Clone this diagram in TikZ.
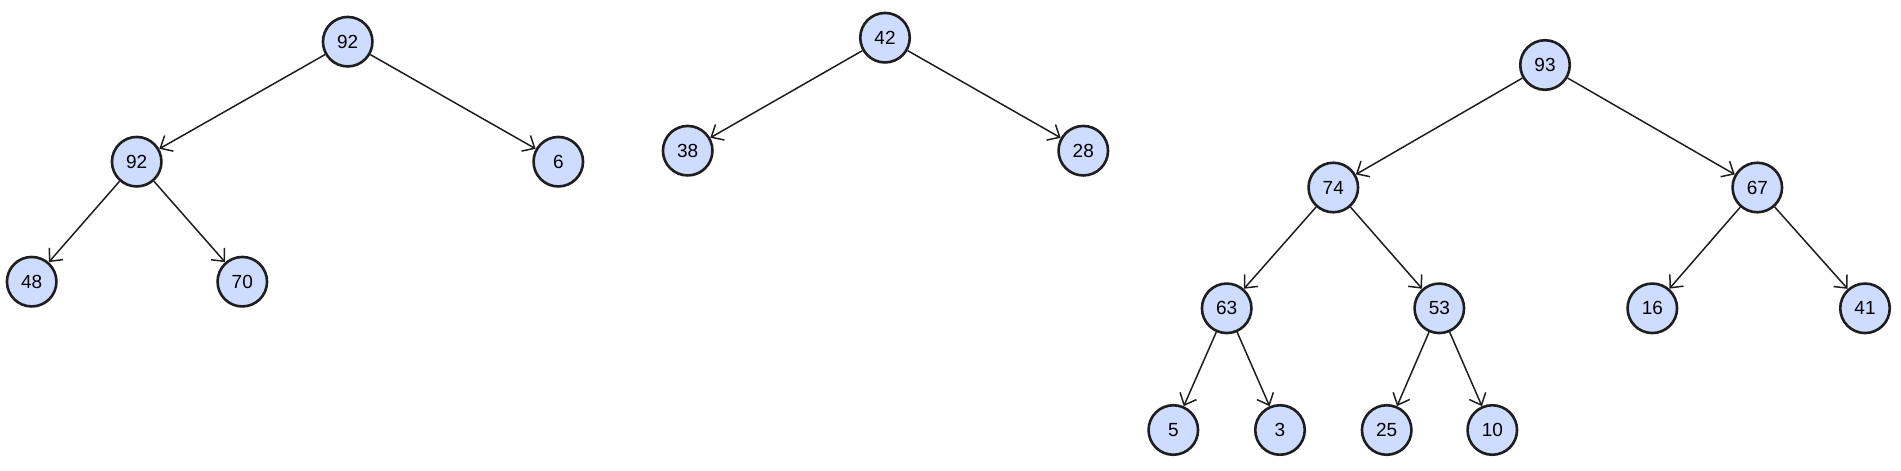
\documentclass[tikz,border=0pt]{standalone}
\usepackage{fontspec}
\setmainfont{Liberation Sans}
\usetikzlibrary{arrows.meta}
\definecolor{nodefill}{RGB}{206,221,255}
\definecolor{edgecol}{RGB}{30,30,30}
\tikzset{
  hnode/.style={circle, draw=edgecol, line width=2.6pt, fill=nodefill, minimum size=49.5pt, inner sep=0pt, font=\fontsize{19}{21}\selectfont},
  hedge/.style={draw=edgecol, line width=1.5pt, -{Straight Barb[length=10pt,width=18pt,line width=1.5pt]}}
}
\begin{document}
\begin{tikzpicture}[x=1pt,y=-1pt]
\useasboundingbox (0,0) rectangle (1901,471);
% tree 1
\node[hnode] (a1) at (347.7,41.7) {92};
\node[hnode] (a2) at (136.7,161.7) {92};
\node[hnode] (a3) at (558.3,161.7) {6};
\node[hnode] (a4) at (31.7,281.7) {48};
\node[hnode] (a5) at (242.3,281.7) {70};
\draw[hedge] (a1) -- (a2);
\draw[hedge] (a1) -- (a3);
\draw[hedge] (a2) -- (a4);
\draw[hedge] (a2) -- (a5);
% tree 2
\node[hnode] (b1) at (885,37.7) {42};
\node[hnode] (b2) at (687.7,150.7) {38};
\node[hnode] (b3) at (1083.3,150.7) {28};
\draw[hedge] (b1) -- (b2);
\draw[hedge] (b1) -- (b3);
% tree 3
\node[hnode] (c1) at (1545,65) {93};
\node[hnode] (c2) at (1333.3,187.5) {74};
\node[hnode] (c3) at (1757.3,187.5) {67};
\node[hnode] (c4) at (1226.7,308.3) {63};
\node[hnode] (c5) at (1439.3,308.3) {53};
\node[hnode] (c6) at (1652.3,308.3) {16};
\node[hnode] (c7) at (1865,308.3) {41};
\node[hnode] (c8) at (1173.3,430) {5};
\node[hnode] (c9) at (1280,430) {3};
\node[hnode] (c10) at (1386.7,430) {25};
\node[hnode] (c11) at (1492.3,430) {10};
\draw[hedge] (c1) -- (c2);
\draw[hedge] (c1) -- (c3);
\draw[hedge] (c2) -- (c4);
\draw[hedge] (c2) -- (c5);
\draw[hedge] (c3) -- (c6);
\draw[hedge] (c3) -- (c7);
\draw[hedge] (c4) -- (c8);
\draw[hedge] (c4) -- (c9);
\draw[hedge] (c5) -- (c10);
\draw[hedge] (c5) -- (c11);
\end{tikzpicture}
\end{document}
